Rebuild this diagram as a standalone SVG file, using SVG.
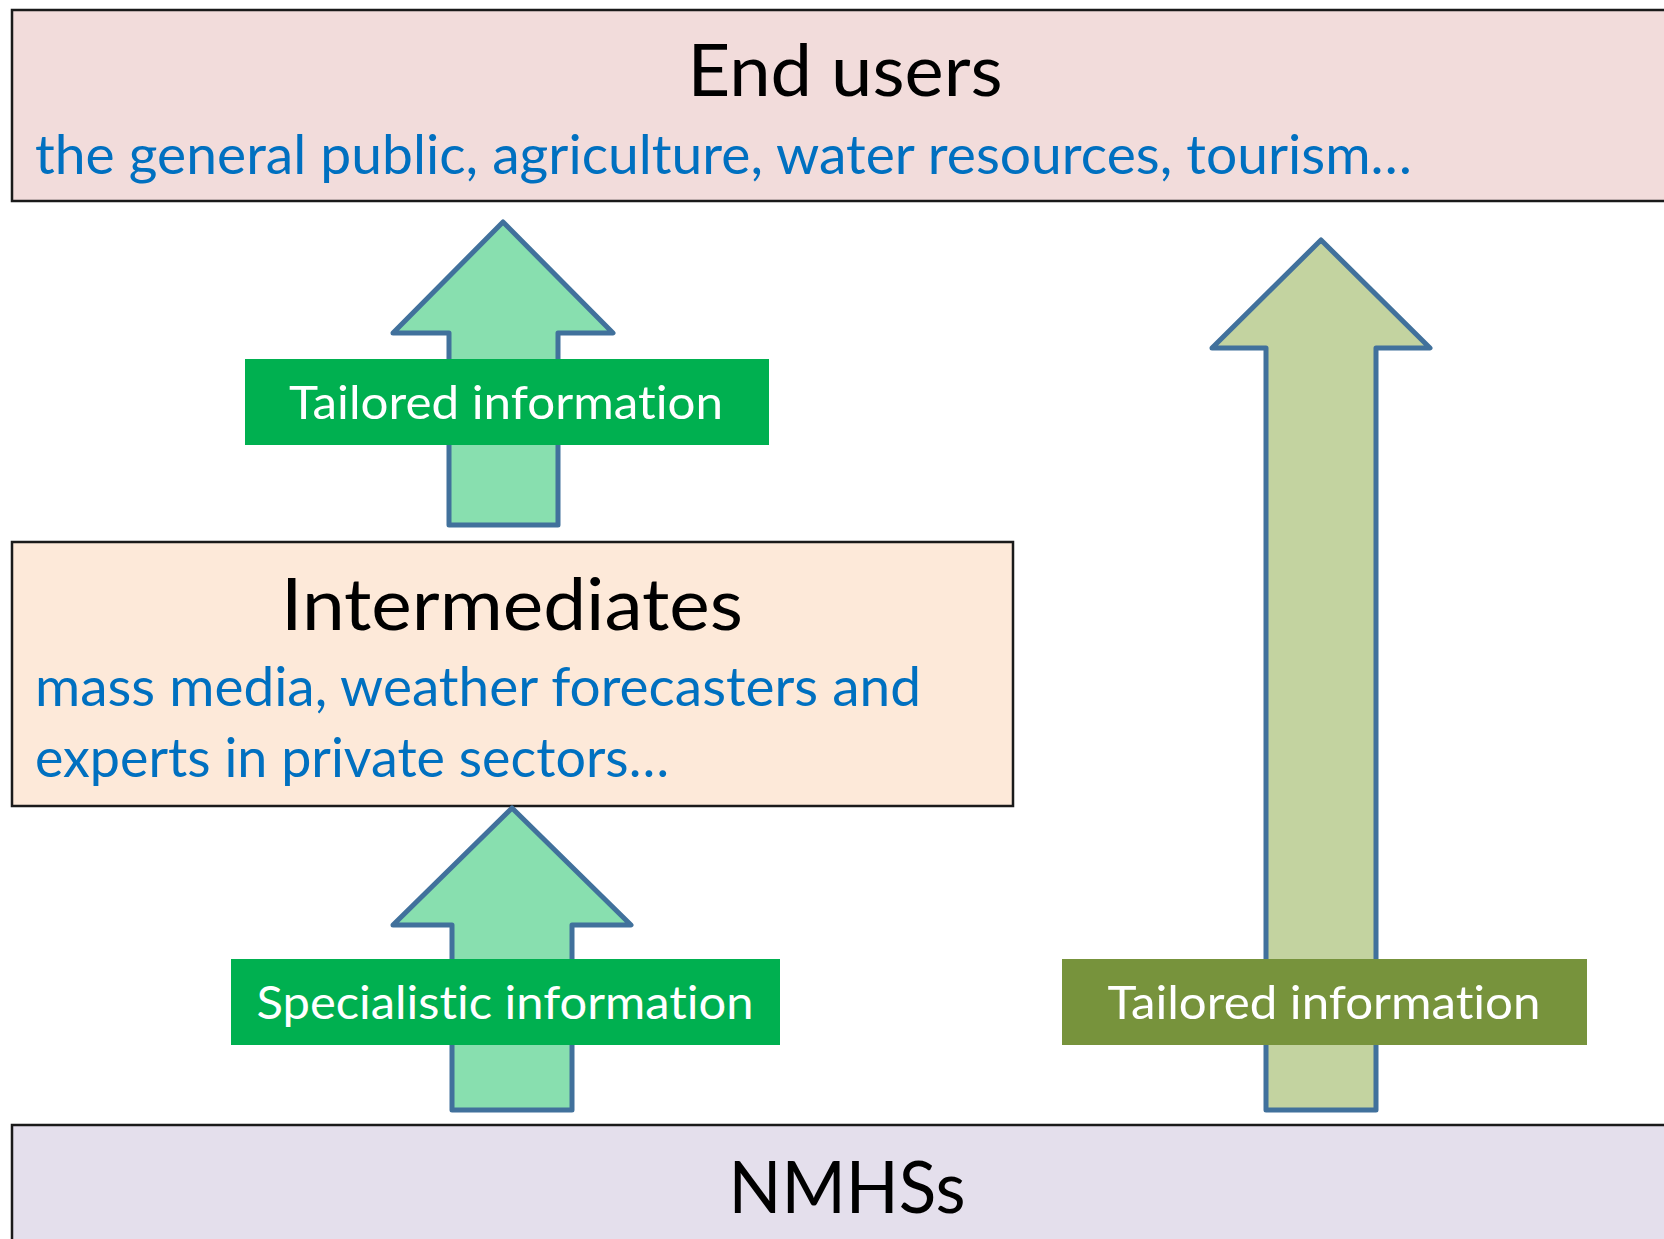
<svg xmlns="http://www.w3.org/2000/svg" width="1664" height="1239" viewBox="0 0 1664 1239">
  <style>
    text { font-variant-ligatures: none; font-feature-settings: "liga" 0, "clig" 0; }
    .box { stroke: #1a1a1a; stroke-width: 2.5; }
    .title { font-family: Lato, "Open Sans", sans-serif; font-size: 71px; fill: #000000; text-anchor: middle; }
    .sub { font-family: Lato, "Open Sans", sans-serif; font-size: 55px; fill: #0070C0; }
    .arrow { stroke: #41719C; stroke-width: 5; stroke-linejoin: round; }
    .lbl { font-family: Lato, "Open Sans", sans-serif; font-size: 47px; fill: #ffffff; text-anchor: middle; }
  </style>
  <rect width="1664" height="1239" fill="#ffffff"/>

  <g id="end-users">
    <rect class="box" x="12" y="10" width="1680" height="191" fill="#F2DCDB"/>
    <text class="title" x="845" y="96" textLength="315" lengthAdjust="spacingAndGlyphs">End users</text>
    <text class="sub" x="35" y="174" textLength="1377" lengthAdjust="spacingAndGlyphs">the general public, agriculture, water resources, tourism…</text>
  </g>

  <g id="intermediates">
    <rect class="box" x="12" y="542" width="1001" height="264" fill="#FDE9D9"/>
    <text class="title" x="512" y="630" textLength="462" lengthAdjust="spacingAndGlyphs">Intermediates</text>
    <text class="sub" x="35" y="706" textLength="886" lengthAdjust="spacingAndGlyphs">mass media, weather forecasters and</text>
    <text class="sub" x="35" y="777" textLength="634" lengthAdjust="spacingAndGlyphs">experts in private sectors…</text>
  </g>

  <g id="nmhss">
    <rect class="box" x="12" y="1125" width="1680" height="140" fill="#E4DFEC"/>
    <text class="title" x="847" y="1213" textLength="237" lengthAdjust="spacingAndGlyphs">NMHSs</text>
  </g>

  <g id="connectors">
    <!-- intermediates to end users -->
    <g id="arrow-tailored-upper">
      <polygon class="arrow" fill="#88DFAF" points="503,222 613,333 558,333 558,525 449,525 449,333 393,333"/>
      <rect x="245" y="359" width="524" height="86" fill="#00B050"/>
      <text class="lbl" x="506" y="419" textLength="434" lengthAdjust="spacingAndGlyphs">Tailored information</text>
    </g>
    <!-- NMHSs to intermediates -->
    <g id="arrow-specialistic">
      <polygon class="arrow" fill="#88DFAF" points="512,808 631,925 572,925 572,1110 452,1110 452,925 393,925"/>
      <rect x="231" y="959" width="549" height="86" fill="#00B050"/>
      <text class="lbl" x="505" y="1019" textLength="497" lengthAdjust="spacingAndGlyphs">Specialistic information</text>
    </g>
    <!-- NMHSs directly to end users -->
    <g id="arrow-tailored-direct">
      <polygon class="arrow" fill="#C3D3A0" points="1321,240 1430,348 1376,348 1376,1110 1266,1110 1266,348 1212,348"/>
      <rect x="1062" y="959" width="525" height="86" fill="#77933C"/>
      <text class="lbl" x="1324" y="1019" textLength="433" lengthAdjust="spacingAndGlyphs">Tailored information</text>
    </g>
  </g>
</svg>
